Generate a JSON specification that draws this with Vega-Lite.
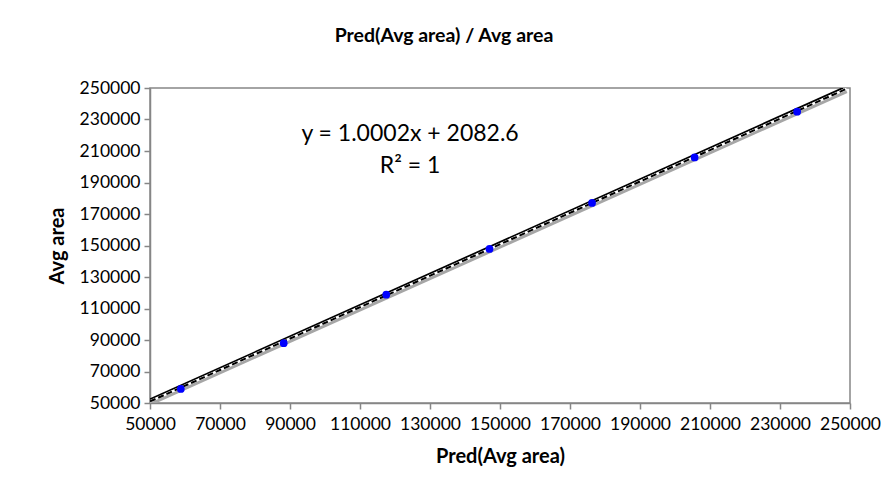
{
  "$schema": "https://vega.github.io/schema/vega-lite/v6.json",
  "width": 700,
  "height": 315,
  "autosize": {"type": "none"},
  "padding": {"left": 150, "top": 88, "right": 43, "bottom": 100},
  "background": "white",
  "title": {
    "text": "Pred(Avg area) / Avg area",
    "font": "Lato",
    "fontSize": 19.5,
    "fontWeight": "bold",
    "color": "black",
    "anchor": "middle",
    "offset": 33,
    "dx": -56
  },
  "config": {
    "view": {"stroke": "#868686", "strokeWidth": 1.5},
    "axis": {
      "domainColor": "#868686",
      "domainWidth": 1.5,
      "tickColor": "#868686",
      "tickWidth": 1.5,
      "tickSize": 6,
      "grid": false,
      "labelFont": "Lato",
      "labelFontSize": 17.5,
      "labelColor": "black",
      "labelOverlap": false,
      "labelFlush": false,
      "labelBound": false,
      "titleFont": "Lato",
      "titleFontSize": 20,
      "titleFontWeight": "bold",
      "titleColor": "black"
    }
  },
  "datasets": {
    "points": [
      {"pred": 58800, "avg": 58900},
      {"pred": 88200, "avg": 88000},
      {"pred": 117500, "avg": 118800},
      {"pred": 147000, "avg": 147800},
      {"pred": 176300, "avg": 177000},
      {"pred": 205600, "avg": 205900},
      {"pred": 234900, "avg": 235000}
    ],
    "grayline": [
      {"pred": 50000, "avg": 49700},
      {"pred": 249000, "avg": 248200}
    ],
    "blackline": [
      {"pred": 50000, "avg": 52300},
      {"pred": 248000, "avg": 250000}
    ],
    "trend": [
      {"pred": 50000, "avg": 51000},
      {"pred": 249000, "avg": 249500}
    ],
    "labels": [
      {"pred": 124300, "avg": 221000, "label": "y = 1.0002x + 2082.6"},
      {"pred": 124300, "avg": 200500, "label": "R² = 1"}
    ]
  },
  "encoding": {
    "x": {
      "field": "pred",
      "type": "quantitative",
      "scale": {"domain": [50000, 250000], "nice": false, "zero": false},
      "axis": {
        "title": "Pred(Avg area)",
        "values": [50000, 70000, 90000, 110000, 130000, 150000, 170000, 190000, 210000, 230000, 250000],
        "format": "d",
        "labelPadding": 6,
        "titlePadding": 14
      }
    },
    "y": {
      "field": "avg",
      "type": "quantitative",
      "scale": {"domain": [50000, 250000], "nice": false, "zero": false},
      "axis": {
        "title": "Avg area",
        "values": [50000, 70000, 90000, 110000, 130000, 150000, 170000, 190000, 210000, 230000, 250000],
        "format": "d",
        "labelPadding": 4,
        "titlePadding": 12
      }
    }
  },
  "layer": [
    {"data": {"name": "grayline"}, "mark": {"type": "line", "color": "#A6A6A6", "strokeWidth": 4.5, "clip": true}},
    {"data": {"name": "blackline"}, "mark": {"type": "line", "color": "black", "strokeWidth": 2, "clip": true}},
    {"data": {"name": "trend"}, "mark": {"type": "line", "color": "white", "strokeWidth": 2.5, "clip": true}},
    {"data": {"name": "trend"}, "mark": {"type": "line", "color": "black", "strokeWidth": 2, "strokeDash": [6, 3], "clip": true}},
    {"data": {"name": "points"}, "mark": {"type": "circle", "color": "#0000FF", "opacity": 1, "size": 60}},
    {"data": {"name": "labels"}, "mark": {"type": "text", "font": "Lato", "fontSize": 23, "color": "black", "align": "center", "baseline": "middle"}, "encoding": {"text": {"field": "label"}}}
  ]
}
